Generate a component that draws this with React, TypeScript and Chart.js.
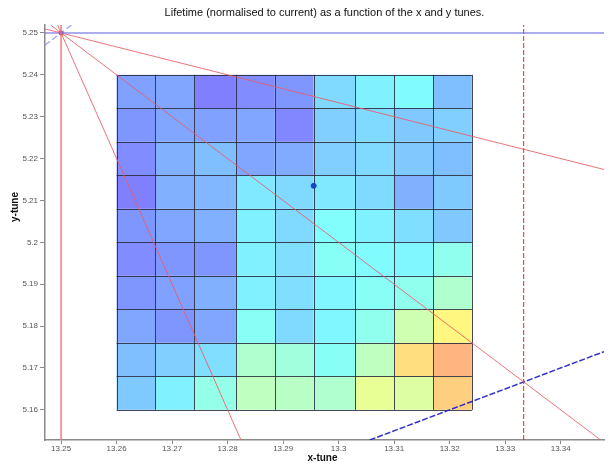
import React, { useEffect, useRef } from "react";
import { Chart, registerables } from "chart.js";

Chart.register(...registerables);

// Axis ranges (tune space)
const X_MIN = 13.2471;
const X_MAX = 13.3478;
const Y_MIN = 5.1528;
const Y_MAX = 5.2519;

const xTicks = [13.25, 13.26, 13.27, 13.28, 13.29, 13.3, 13.31, 13.32, 13.33, 13.34];
const xTickLabels = ["13.25", "13.26", "13.27", "13.28", "13.29", "13.3", "13.31", "13.32", "13.33", "13.34"];
const yTicks = [5.16, 5.17, 5.18, 5.19, 5.2, 5.21, 5.22, 5.23, 5.24, 5.25];
const yTickLabels = ["5.16", "5.17", "5.18", "5.19", "5.2", "5.21", "5.22", "5.23", "5.24", "5.25"];

// Scan grid cell edges
const xEdges = [13.26, 13.267, 13.274, 13.2815, 13.2885, 13.2955, 13.303, 13.31, 13.317, 13.324];
const yEdges = [5.24, 5.232, 5.224, 5.216, 5.208, 5.2, 5.192, 5.184, 5.176, 5.168, 5.16];

// Lifetime normalised to current; first row is the top row (y 5.24 .. 5.232)
const lifetimeRow1 = [0.835, 0.85, 0.74, 0.775, 0.805, 1.0, 1.07, 1.105, 0.925];
const lifetimeRow2 = [0.805, 0.85, 0.835, 0.85, 0.76, 0.97, 1.0, 0.955, 0.97];
const lifetimeRow3 = [0.775, 0.88, 0.925, 0.85, 0.865, 0.97, 1.0, 0.955, 0.925];
const lifetimeRow4 = [0.73, 0.88, 0.9, 1.045, 1.0, 1.045, 1.0, 0.88, 0.955];
const lifetimeRow5 = [0.805, 0.85, 0.88, 1.07, 1.0, 1.12, 1.07, 1.015, 0.955];
const lifetimeRow6 = [0.775, 0.805, 0.805, 1.07, 1.015, 1.135, 1.105, 1.09, 1.165];
const lifetimeRow7 = [0.805, 0.835, 0.88, 1.07, 1.015, 1.09, 1.135, 1.165, 1.255];
const lifetimeRow8 = [0.85, 0.805, 0.85, 1.135, 1.0, 1.09, 1.165, 1.345, 1.51];
const lifetimeRow9 = [0.925, 0.97, 1.015, 1.255, 1.21, 1.135, 1.3, 1.585, 1.705];
const lifetimeRow10 = [0.955, 1.07, 1.18, 1.3, 1.28, 1.255, 1.42, 1.39, 1.63];
const lifetimeRows = [
  lifetimeRow1, lifetimeRow2, lifetimeRow3, lifetimeRow4, lifetimeRow5,
  lifetimeRow6, lifetimeRow7, lifetimeRow8, lifetimeRow9, lifetimeRow10,
];

// Colour limits for the jet map
const C_LO = 0.55;
const C_HI = 2.05;

// Current working point
const currentTune = { x: 13.2955, y: 5.2135 };
// Reference corner (integer-resonance crossing)
const cornerTune = { x: 13.25, y: 5.25 };

// Resonance lines a*Qx + b*Qy = c
const redLines = [
  { a: 1, b: 3, c: 29 },
  { a: 1, b: 1, c: 18.5 },
  { a: 3, b: 1, c: 45 },
];
const redVertical = { a: 1, b: 0, c: 13.25 };
const redDashedVertical = { a: 3, b: 0, c: 40 };
const blueHorizontal = { a: 0, b: 4, c: 21 };
const blueDashed = { a: 1, b: -2, c: 3 };
const blueDiagonal = { a: 1, b: -1, c: 8 };

const FONT = "'Liberation Sans', Arial, Helvetica, sans-serif";

function jet(f: number): [number, number, number] {
  const c = (v: number) => Math.max(0, Math.min(1, v));
  return [c(1.5 - Math.abs(4 * f - 3)), c(1.5 - Math.abs(4 * f - 2)), c(1.5 - Math.abs(4 * f - 1))];
}

function cellColour(v: number): string {
  const f = (v - C_LO) / (C_HI - C_LO);
  const [r, g, b] = jet(f);
  const a = 0.5;
  const mix = (k: number) => Math.round(255 * (1 - a) + 255 * k * a);
  return `rgb(${mix(r)},${mix(g)},${mix(b)})`;
}

function segment(l: { a: number; b: number; c: number }) {
  const pts: { x: number; y: number }[] = [];
  const eps = 1e-9;
  if (l.b !== 0) {
    for (const x of [X_MIN, X_MAX]) {
      const y = (l.c - l.a * x) / l.b;
      if (y >= Y_MIN - eps && y <= Y_MAX + eps) pts.push({ x, y });
    }
  }
  if (l.a !== 0) {
    for (const y of [Y_MIN, Y_MAX]) {
      const x = (l.c - l.b * y) / l.a;
      if (x >= X_MIN - eps && x <= X_MAX + eps) pts.push({ x, y });
    }
  }
  pts.sort((p, q) => p.x - q.x || p.y - q.y);
  return pts.length ? [pts[0], pts[pts.length - 1]] : [];
}

const gridPlugin = {
  id: "tuneGrid",
  beforeDatasetsDraw(chart: any) {
    const { ctx, scales } = chart;
    const xs = scales.x;
    const ys = scales.y;
    ctx.save();
    for (let r = 0; r < lifetimeRows.length; r++) {
      for (let c = 0; c < lifetimeRows[r].length; c++) {
        const x0 = xs.getPixelForValue(xEdges[c]);
        const x1 = xs.getPixelForValue(xEdges[c + 1]);
        const y0 = ys.getPixelForValue(yEdges[r]);
        const y1 = ys.getPixelForValue(yEdges[r + 1]);
        ctx.fillStyle = cellColour(lifetimeRows[r][c]);
        ctx.fillRect(x0, y0, x1 - x0, y1 - y0);
      }
    }
    ctx.strokeStyle = "rgba(35,40,60,0.85)";
    ctx.lineWidth = 1;
    ctx.beginPath();
    for (const xv of xEdges) {
      const px = Math.round(xs.getPixelForValue(xv)) + 0.5;
      ctx.moveTo(px, ys.getPixelForValue(yEdges[0]));
      ctx.lineTo(px, ys.getPixelForValue(yEdges[yEdges.length - 1]));
    }
    for (const yv of yEdges) {
      const py = Math.round(ys.getPixelForValue(yv)) + 0.5;
      ctx.moveTo(xs.getPixelForValue(xEdges[0]), py);
      ctx.lineTo(xs.getPixelForValue(xEdges[xEdges.length - 1]), py);
    }
    ctx.stroke();
    ctx.restore();
  },
  afterDraw(chart: any) {
    const { ctx, chartArea } = chart;
    ctx.save();
    ctx.fillStyle = "#111";
    ctx.textAlign = "center";
    ctx.textBaseline = "middle";
    ctx.font = `11px ${FONT}`;
    ctx.fillText(
      "Lifetime (normalised to current) as a function of the x and y tunes.",
      (chartArea.left + chartArea.right) / 2,
      13
    );
    ctx.font = `bold 10px ${FONT}`;
    ctx.fillText("x-tune", (chartArea.left + chartArea.right) / 2 - 2, 458);
    ctx.translate(15, 207);
    ctx.rotate(-Math.PI / 2);
    ctx.fillText("y-tune", 0, 0);
    ctx.restore();
  },
};

const lineDataset = (l: any, color: string, width: number, dash: number[] = []) => ({
  type: "scatter" as const,
  data: segment(l),
  showLine: true,
  borderColor: color,
  backgroundColor: color,
  borderWidth: width,
  borderDash: dash,
  pointRadius: 0,
  pointHoverRadius: 0,
});

export default function App() {
  const ref = useRef<HTMLCanvasElement | null>(null);

  useEffect(() => {
    if (!ref.current) return;
    const chart = new Chart(ref.current, {
      type: "scatter",
      data: {
        datasets: [
          lineDataset(redVertical, "rgba(238,110,110,0.7)", 2),
          lineDataset(blueHorizontal, "rgba(110,110,225,0.75)", 1.5),
          lineDataset(blueDiagonal, "rgba(120,140,240,0.8)", 1.2, [6, 3]),
          ...redLines.map((l) => lineDataset(l, "rgba(235,90,100,0.85)", 1)),
          lineDataset(redDashedVertical, "rgba(235,25,25,0.95)", 1, [5, 2]),
          lineDataset(blueDashed, "rgba(30,30,200,0.9)", 1.5, [6, 2]),
          {
            type: "scatter" as const,
            data: [cornerTune],
            pointRadius: 2,
            backgroundColor: "#a02040",
            borderColor: "#a02040",
          },
          {
            type: "scatter" as const,
            data: [currentTune],
            pointRadius: 2.5,
            backgroundColor: "#1448c8",
            borderColor: "#1448c8",
          },
        ] as any,
      },
      options: {
        animation: false,
        responsive: false,
        devicePixelRatio: 1,
        layout: { padding: { top: 25, right: 6, bottom: 0, left: 0 } },
        plugins: {
          legend: { display: false },
          tooltip: { enabled: false },
          title: { display: false },
        },
        scales: {
          x: {
            type: "linear",
            min: X_MIN,
            max: X_MAX,
            afterBuildTicks: (s: any) => {
              s.ticks = xTicks.map((v) => ({ value: v }));
            },
            afterFit: (s: any) => {
              s.height = 24;
            },
            ticks: {
              callback: (_v: any, i: number) => xTickLabels[i],
              font: { size: 8, family: FONT },
              color: "#555",
              padding: 0,
              maxRotation: 0,
              autoSkip: false,
            },
            grid: { display: true, drawOnChartArea: false, drawTicks: true, tickLength: 4, color: "#8a8a8a" },
            border: { display: true, color: "#8a8a8a", width: 1.5 },
          },
          y: {
            type: "linear",
            min: Y_MIN,
            max: Y_MAX,
            afterBuildTicks: (s: any) => {
              s.ticks = yTicks.map((v) => ({ value: v }));
            },
            afterFit: (s: any) => {
              s.width = 45;
            },
            ticks: {
              callback: (_v: any, i: number) => yTickLabels[i],
              font: { size: 8, family: FONT },
              color: "#555",
              padding: 2,
              autoSkip: false,
            },
            grid: { display: true, drawOnChartArea: false, drawTicks: true, tickLength: 5, color: "#8a8a8a" },
            border: { display: true, color: "#8a8a8a", width: 1.5 },
          },
        },
      } as any,
      plugins: [gridPlugin],
    });
    return () => chart.destroy();
  }, []);

  return (
    <div style={{ position: "fixed", left: 0, top: 0, width: 610, height: 464, background: "#fff" }}>
      <canvas ref={ref} width={610} height={464} />
    </div>
  );
}
